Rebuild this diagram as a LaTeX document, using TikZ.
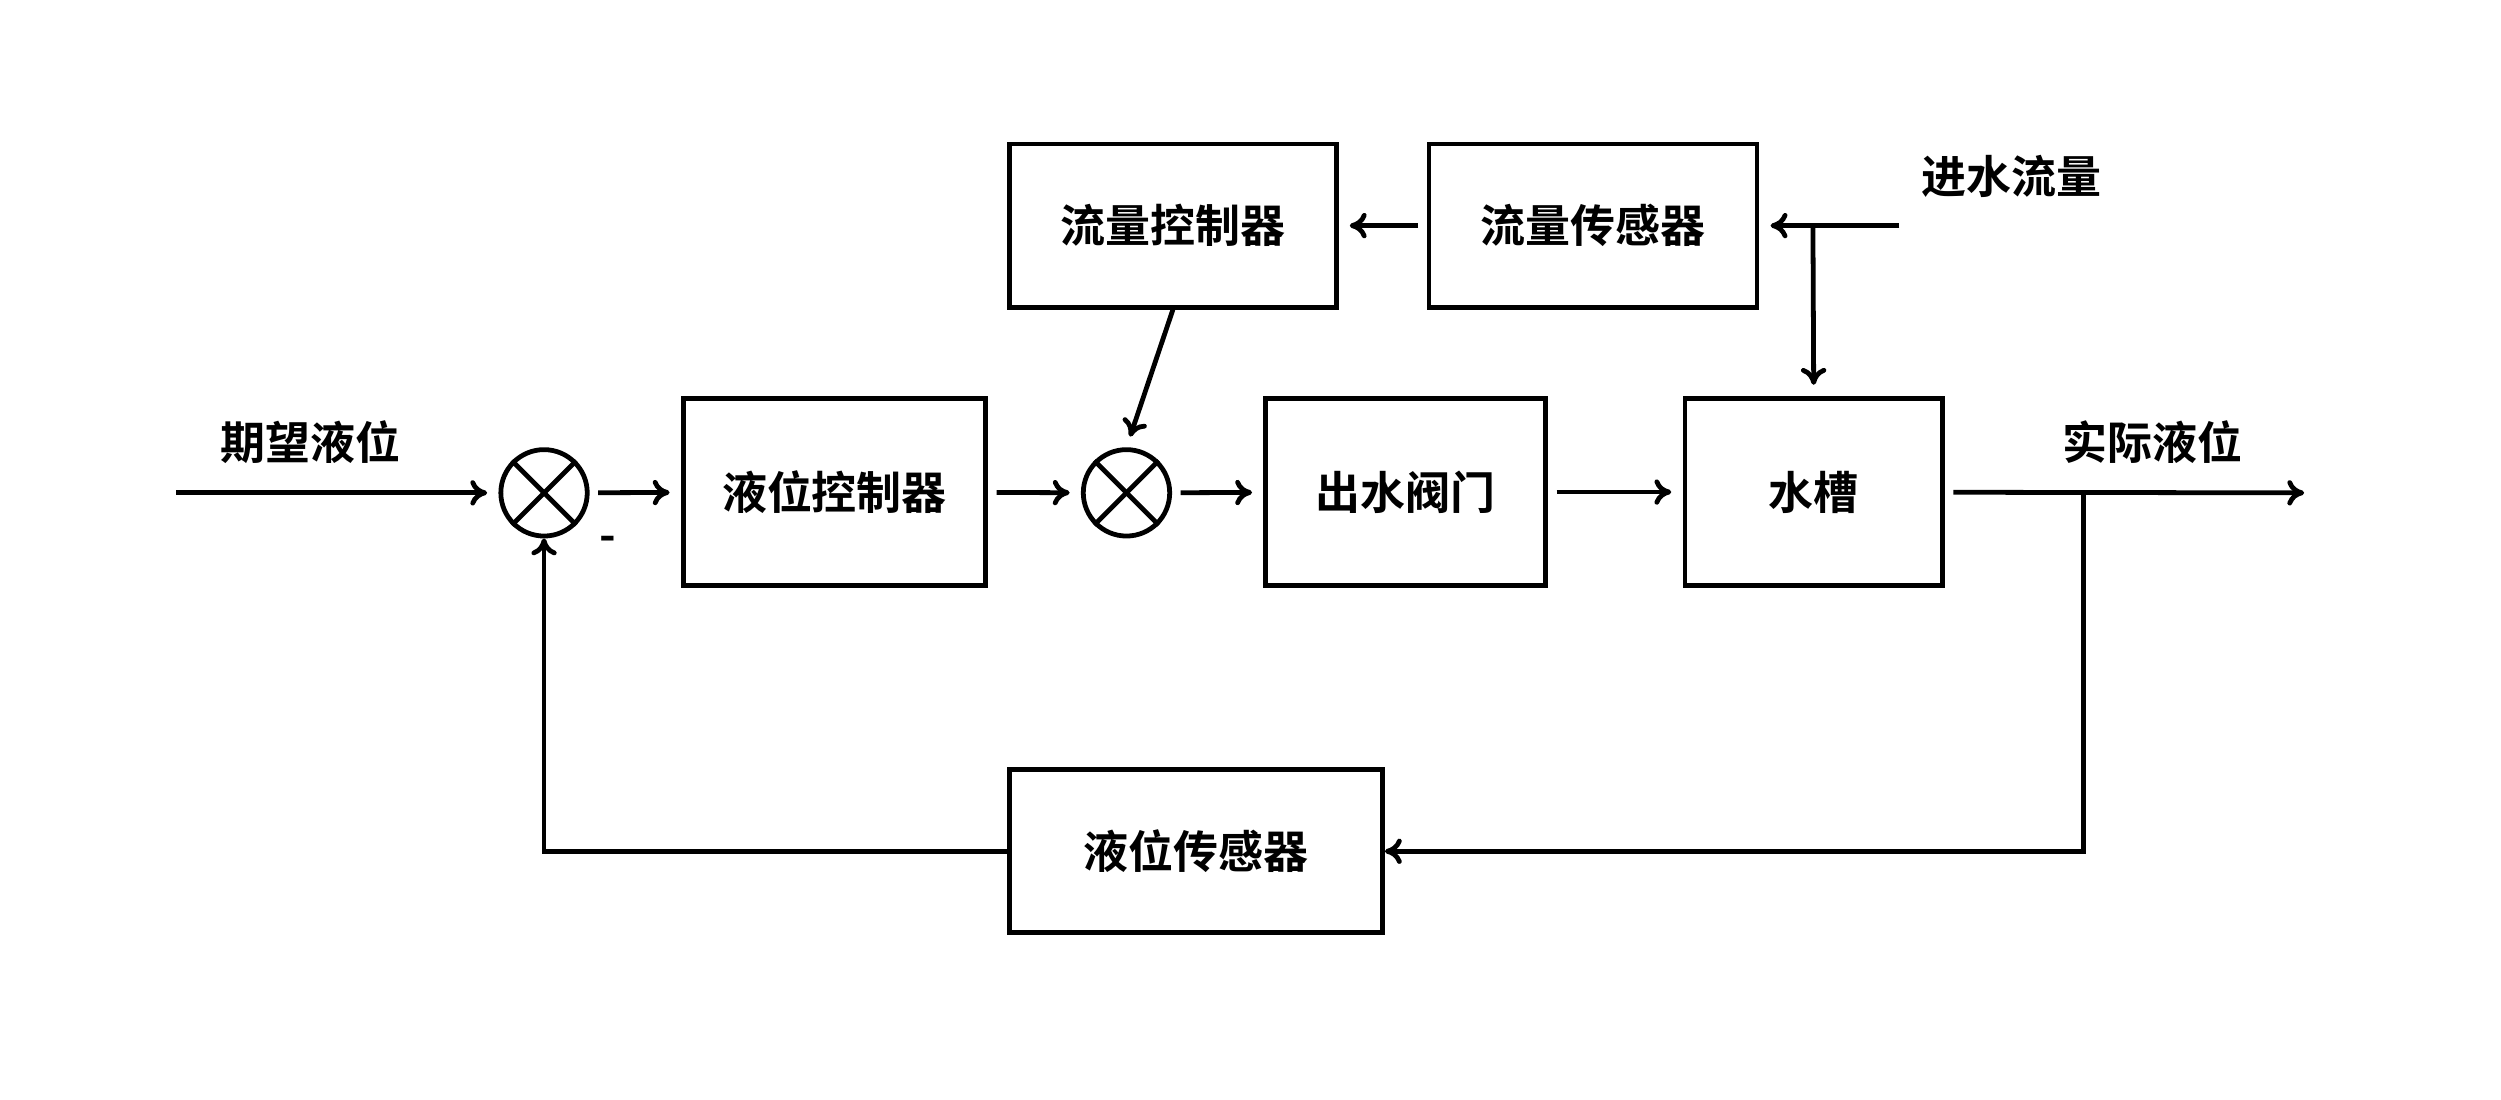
\documentclass[tikz,border=0pt]{standalone}
\usepackage{fontspec}
\setmainfont{Noto Sans CJK SC}[BoldFont={Noto Sans CJK SC Bold}]
\usetikzlibrary{arrows.meta}
\begin{document}
\begin{tikzpicture}[x=0.02cm,y=-0.02cm,line width=1.7pt,
  blk/.style={draw,rectangle,inner sep=0pt,font=\fontsize{16}{18}\selectfont\bfseries},
  sum/.style={draw,circle,minimum size=54*0.02cm,inner sep=0pt},
  lab/.style={font=\fontsize{16}{18}\selectfont\bfseries},
  arr/.style={-{To[length=6pt,width=9pt]}}]
\useasboundingbox (0,0) rectangle (1563,687);
\node[blk,minimum width=204*0.02cm,minimum height=102*0.02cm] (fc) at (733,141) {流量控制器};
\node[blk,minimum width=205*0.02cm,minimum height=102*0.02cm] (fs) at (995.5,141) {流量传感器};
\node[blk,minimum width=189*0.02cm,minimum height=117*0.02cm] (lc) at (521.5,307.5) {液位控制器};
\node[blk,minimum width=175*0.02cm,minimum height=117*0.02cm] (ov) at (878.5,307.5) {出水阀门};
\node[blk,minimum width=161*0.02cm,minimum height=117*0.02cm] (tk) at (1133.5,307.5) {水槽};
\node[blk,minimum width=233*0.02cm,minimum height=102*0.02cm] (ls) at (747.5,532) {液位传感器};
\node[sum] (s1) at (340,308) {};
\node[sum] (s2) at (704,308) {};
\foreach \s in {s1,s2}{
  \draw (\s.north west) -- (\s.south east);
  \draw (\s.north east) -- (\s.south west);}
\coordinate (in) at (110,308);
\coordinate (out) at (1440,308);
\coordinate (br) at (1302,308);
\coordinate (br2) at (1302,532);
\coordinate (fb) at (340,532);
\coordinate (fin) at (1187,141);
\coordinate (fbr) at (1133,141);
\node[lab] at (194,276) {期望液位};
\node[lab] at (1345,276) {实际液位};
\node[lab] at (1257,110) {进水流量};
\node[lab] at (380,340) {-};
\draw[arr,shorten >=4pt] (in) -- (s1);
\draw[arr,shorten <=3pt,shorten >=4pt] (s1) -- (lc);
\draw[arr,shorten <=3pt,shorten >=4pt] (lc) -- (s2);
\draw[arr,shorten <=3pt,shorten >=4pt] (s2) -- (ov);
\draw[arr,shorten <=3pt,shorten >=4pt] (ov) -- (tk);
\draw[arr,shorten <=3pt] (tk) -- (out);
\draw[arr] (br) -- (br2) -- (ls.east);
\draw[arr] (ls.west) -- (fb) -- (s1.south);
\draw[arr,shorten >=4pt] (fc.south) -- (s2.north);
\draw[arr,shorten <=3pt,shorten >=4pt] (fs) -- (fc);
\draw[arr,shorten >=4pt] (fin) -- (fs.east);
\draw[arr,shorten >=4pt] (fbr) -- (tk.north);
\end{tikzpicture}
\end{document}
